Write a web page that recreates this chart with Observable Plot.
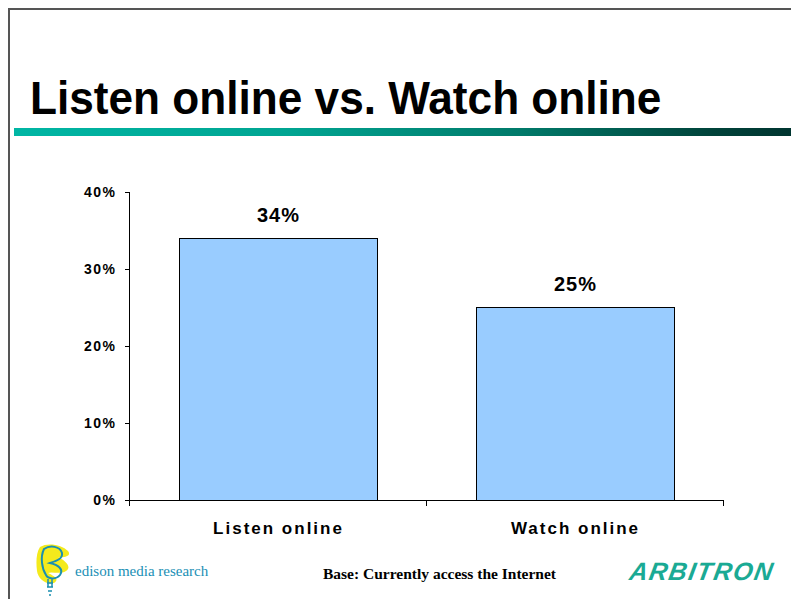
<!DOCTYPE html>
<html>
<head>
<meta charset="utf-8">
<script src="https://cdn.jsdelivr.net/npm/d3@7"></script>
<script src="https://cdn.jsdelivr.net/npm/@observablehq/plot@0.6"></script>
<style>
  html, body { margin: 0; padding: 0; background: #fff; }
  #page { position: relative; width: 791px; height: 599px; overflow: hidden; font-family: Arial, "Liberation Sans", sans-serif; }
  #frame { position: absolute; left: 8px; top: 8px; width: 800px; height: 600px; border-top: 2px solid #555; border-left: 2px solid #555; }
  #title { position: absolute; left: 30px; top: 72px; font-family: Arial, "Liberation Sans", sans-serif; font-weight: bold; font-size: 46px; line-height: 52px; color: #000; white-space: nowrap; transform: scaleX(0.96); transform-origin: left center; }
  #rule { position: absolute; left: 14px; top: 128px; width: 777px; height: 8px; background: linear-gradient(to right, #00b6a4 0%, #00a592 35%, #007a6a 65%, #00433a 90%, #003530 100%); }
  #chart { position: absolute; left: 0; top: 0; }
  #chart g[aria-label="y-axis tick label"] text { letter-spacing: 1.5px; }
  #chart g[aria-label="x-axis tick label"] text { letter-spacing: 2px; }
  #chart g[aria-label="text"] text { letter-spacing: 1px; }
  #chart g[aria-label="bar"] rect { shape-rendering: crispEdges; }
  #edison { position: absolute; left: 75px; top: 563px; font-family: "Liberation Serif", "Times New Roman", serif; font-size: 15px; color: #1a8fb5; white-space: nowrap; }
  #base { position: absolute; left: 323px; top: 565px; font-family: "Liberation Serif", "Times New Roman", serif; font-weight: bold; font-size: 15.5px; color: #000; white-space: nowrap; }
  #arbitron { position: absolute; left: 630px; top: 559px; font-family: Arial, "Liberation Sans", sans-serif; font-weight: bold; font-style: italic; font-size: 25px; line-height: 25px; letter-spacing: 1.5px; color: #1aaa94; white-space: nowrap; transform: skewX(-10deg); }
  #logo { position: absolute; left: 34px; top: 543px; }
</style>
</head>
<body>
<div id="page">
  <div id="frame"></div>
  <div id="title">Listen online vs. Watch online</div>
  <div id="rule"></div>
  <div id="chart"></div>
  <svg id="logo" width="40" height="56" viewBox="0 0 40 56">
    <path d="M6 4 C14 -1 28 2 34 8 C38 13 30 15 24 14 C32 18 38 24 32 28 C26 32 18 28 14 30 C20 33 26 36 20 40 C12 42 4 36 3 28 C2 20 2 10 6 4 Z" fill="#f4ea1c"/>
    <path d="M10 6 C16 2 26 3 28 10 C29 16 22 18 16 20 C24 22 30 26 26 32 C22 37 14 36 12 32 C8 26 6 14 10 6 Z" fill="none" stroke="#1a8fb0" stroke-width="2"/>
    <path d="M14 36 L14 44 M18 36 L18 44 M13 40 L19 40 M13 44 L19 44 M14 48 L18 48 M15 52 L17 52" stroke="#1a8fb0" stroke-width="1.5" fill="none"/>
  </svg>
  <div id="edison">edison media research</div>
  <div id="base">Base: Currently access the Internet</div>
  <div id="arbitron">ARBITRON</div>
</div>
<script>
const categories = ["Listen online", "Watch online"];
const values = [34, 25];
const yTicks = [0, 10, 20, 30, 40];

const data = categories.map((c, i) => ({cat: c, value: values[i]}));
const padInner = 0.334;

const chart = Plot.plot({
  width: 791,
  height: 599,
  marginTop: 192,
  marginBottom: 99,
  marginLeft: 129,
  marginRight: 67,
  style: {background: "transparent", fontFamily: "Arial, 'Liberation Sans', sans-serif", color: "#000"},
  x: {domain: categories, paddingInner: padInner, paddingOuter: padInner / 2},
  y: {domain: [0, 40]},
  marks: [
    Plot.barY(data, {x: "cat", y: "value", fill: "#99ccff", stroke: "#000", strokeWidth: 1}),
    Plot.text(data, {x: "cat", y: "value", text: d => d.value + "%", dy: -23, fontSize: 20, fontWeight: "bold", fill: "#000"}),
    Plot.axisY({ticks: yTicks, tickFormat: d => d + "%", tickSize: 4, tickPadding: 9, fontSize: 14, fontWeight: "bold", label: null, stroke: "#000"}),
    Plot.axisX({tickSize: 0, tickPadding: 21, fontSize: 17, fontWeight: "bold", label: null}),
    Plot.ruleY([0], {stroke: "#000"})
  ]
});
document.getElementById("chart").appendChild(chart);

// y-axis line and category-boundary ticks, placed with the chart's own scales
const sx = chart.scale("x"), sy = chart.scale("y");
const bw = sx.bandwidth, step = sx.step;
const gap = (step - bw) / 2;
const bounds = categories.map(c => sx.apply(c) - gap);
bounds.push(sx.apply(categories[categories.length - 1]) + bw + gap);
const y0 = sy.apply(0), yTop = sy.apply(yTicks[yTicks.length - 1]);
const g = d3.select(chart).append("g").attr("stroke", "#000").attr("fill", "none");
g.selectAll("line.tick").data(bounds).join("line")
  .attr("x1", d => d).attr("x2", d => d).attr("y1", y0).attr("y2", y0 + 6);
g.append("line").attr("x1", bounds[0]).attr("x2", bounds[0]).attr("y1", yTop).attr("y2", y0);
</script>
</body>
</html>
